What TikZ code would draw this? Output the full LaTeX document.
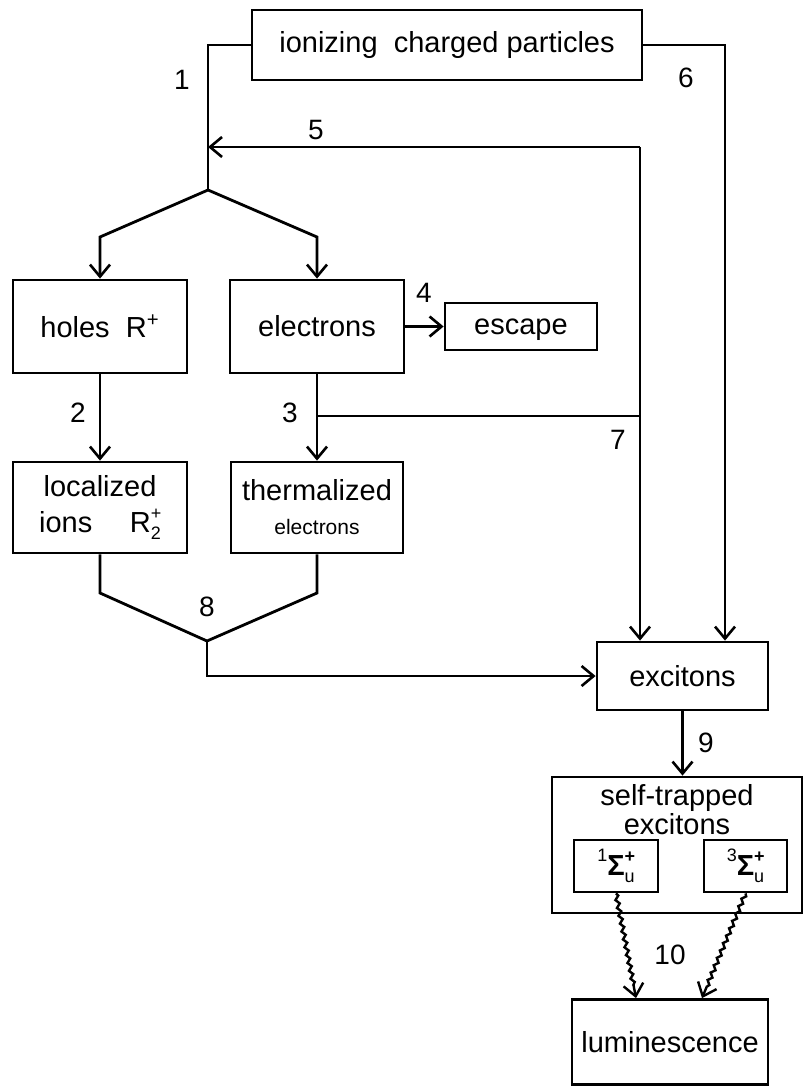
\documentclass[tikz,border=0pt]{standalone}
\usepackage{fontspec}
\setmainfont{Liberation Sans}
\usetikzlibrary{arrows.meta,decorations.pathmorphing}
\newcommand{\supsub}[2]{\rlap{\raisebox{0.85ex}{\fontsize{9}{9}\selectfont#1}}\raisebox{-0.5ex}{\fontsize{9}{9}\selectfont#2}}
\newcommand{\sterm}[1]{\raisebox{0.9ex}{\fontsize{9}{9}\selectfont#1}\textbf{Σ}\supsub{\textbf{+}}{u}}

\begin{document}
\begin{tikzpicture}[x=0.5pt,y=-0.5pt,
  box/.style={draw,line width=1.4pt,inner sep=0pt,align=center,font=\fontsize{14.5}{17}\selectfont},
  ln/.style={line width=1.4pt},
  arr/.style={ln,-{Straight Barb[length=6pt,width=10pt,line width=1.3pt]}},
  wavy/.style={line width=1.2pt,decorate,decoration={snake,amplitude=0.9pt,segment length=4pt,post length=6pt},
    -{Straight Barb[length=6pt,width=10pt,line width=1.2pt]}},
  num/.style={font=\fontsize{14}{14}\selectfont}]
\useasboundingbox (0,0) rectangle (806,1092);
% boxes
\node[box,minimum width=195pt,minimum height=35pt] (ion) at (447,45) {ionizing\ \ charged particles};
\node[box,minimum width=87pt,minimum height=46.5pt] (holes) at (100,326.5) {holes\ \ R\textsuperscript{+}};
\node[box,minimum width=87pt,minimum height=46.5pt] (elec) at (317,326.5) {electrons};
\node[box,minimum width=76pt,minimum height=23.5pt] (escape) at (521,326.5) {escape\vphantom{l}};
\node[box,minimum width=87pt,minimum height=45.5pt] (loc) at (100,507.5) {localized\\[1pt]ions\hspace{1.3em}R\supsub{+}{2}};
\node[box,minimum width=86pt,minimum height=45.5pt] (therm) at (317,507.5) {thermalized\\{\fontsize{10.5}{12}\selectfont electrons}};
\node[box,minimum width=85.5pt,minimum height=34pt] (exc) at (682.5,676) {excitons};
\node[box,minimum width=125pt,minimum height=68pt] (ste) at (677,845) {};
\node[align=center,font=\fontsize{14.5}{12.5}\selectfont] (stet) at (677,810) {self-trapped\\excitons};
\node[box,minimum width=42pt,minimum height=26pt] (s1) at (616,866) {\sterm{1}};
\node[box,minimum width=41.5pt,minimum height=26pt] (s3) at (745.5,866) {\sterm{3}};
\node[box,minimum width=98pt,minimum height=42.5pt] (lum) at (670,1042) {luminescence};
% junctions
\coordinate (j1) at (208,190);
\coordinate (kh) at (100,237);
\coordinate (ke) at (317,237);
\coordinate (r5) at (640,147);
\coordinate (r6) at (725,0);
\coordinate (t7) at (317,416);
\coordinate (lh) at (100,593);
\coordinate (le) at (317,593);
\coordinate (m8) at (207,641);
\coordinate (w1) at (636,0);
\coordinate (w3) at (702,0);
% connectors
\draw[ln] (ion.west) -| (j1);
\draw[arr] (j1) -- (kh) -- (holes.north);
\draw[arr] (j1) -- (ke) -- (elec.north);
\draw[arr] (r5) -- (j1 |- r5);
\draw[arr] (r5) -- (r5 |- exc.north);
\draw[arr] (ion.east) -| (r6 |- exc.north);
\draw[arr] (elec.east) -- (escape.west);
\draw[arr] (holes.south) -- (loc.north);
\draw[arr] (elec.south) -- (therm.north);
\draw[ln] (t7) -- (t7 -| r5);
\draw[ln] (loc.south) -- (lh) -- (m8) -- (le) -- (therm.south);
\draw[arr] (m8) |- (exc.west);
\draw[arr] (exc.south) -- (exc.south |- ste.north);
\draw[wavy] (s1.south) -- (w1 |- lum.north);
\draw[wavy] (s3.south) -- (w3 |- lum.north);
% step numbers
\foreach \t/\p in {1/{(182,80)},2/{(78,413)},3/{(290,413)},4/{(424,293)},5/{(316,130)},
  6/{(686,78)},7/{(618,440)},8/{(207,607)},9/{(706,743)},10/{(670,955)}}
  \node[num] (n\t) at \p {\t};
\end{tikzpicture}
\end{document}
